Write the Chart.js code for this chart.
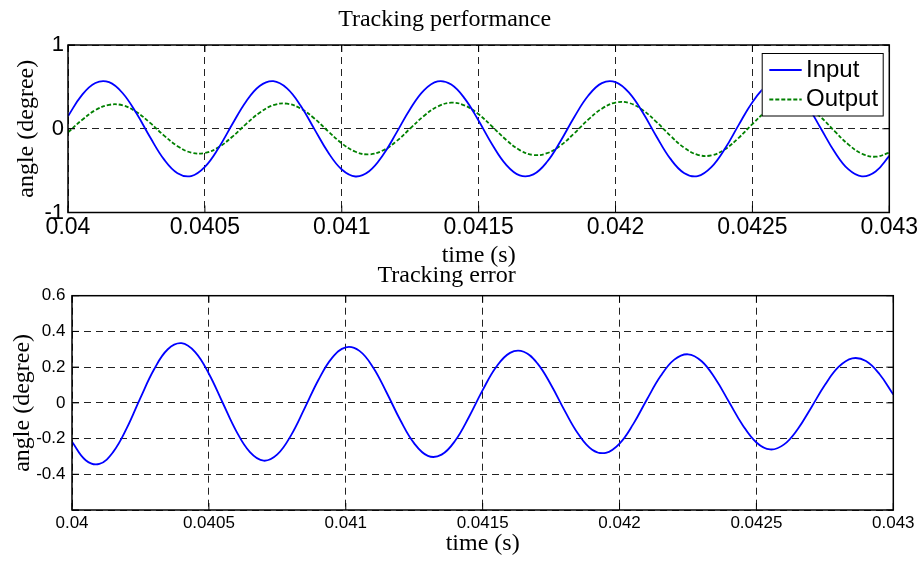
<!DOCTYPE html>
<html>
<head>
<meta charset="utf-8">
<title>Tracking performance</title>
<script src="https://cdn.jsdelivr.net/npm/chart.js@4/dist/chart.umd.min.js"></script>
<style>
  body { margin: 0; background: #fff; }
  #wrap { position: relative; width: 922px; height: 563px; }
  canvas { position: absolute; left: 0; top: 0; }
</style>
</head>
<body>
<div id="wrap">
  <canvas id="topChart" width="922" height="563"></canvas>
  <canvas id="errChart" width="922" height="563"></canvas>
</div>
<script>
// time axis (s), one sample every 0.00005 s
const time = [
  0.04, 0.04005, 0.0401, 0.04015, 0.0402, 0.04025, 0.0403, 0.04035, 0.0404, 0.04045,
  0.0405, 0.04055, 0.0406, 0.04065, 0.0407, 0.04075, 0.0408, 0.04085, 0.0409, 0.04095,
  0.041, 0.04105, 0.0411, 0.04115, 0.0412, 0.04125, 0.0413, 0.04135, 0.0414, 0.04145,
  0.0415, 0.04155, 0.0416, 0.04165, 0.0417, 0.04175, 0.0418, 0.04185, 0.0419, 0.04195,
  0.042, 0.04205, 0.0421, 0.04215, 0.0422, 0.04225, 0.0423, 0.04235, 0.0424, 0.04245,
  0.0425, 0.04255, 0.0426, 0.04265, 0.0427, 0.04275, 0.0428, 0.04285, 0.0429, 0.04295,
  0.043
];

const inputAngle = [
  0.150, 0.399, 0.547, 0.556, 0.424, 0.184, -0.102, -0.363, -0.531, -0.565,
  -0.455, -0.230, 0.053, 0.323, 0.511, 0.569, 0.483, 0.275, -0.004, -0.281,
  -0.487, -0.570, -0.508, -0.317, -0.046, 0.237, 0.459, 0.566, 0.528, 0.357,
  0.095, -0.191, -0.428, -0.557, -0.545, -0.394, -0.143, 0.144, 0.394, 0.545,
  0.557, 0.428, 0.191, -0.095, -0.357, -0.528, -0.566, -0.459, -0.237, 0.046,
  0.317, 0.508, 0.570, 0.487, 0.281, 0.003, -0.275, -0.483, -0.569, -0.511,
  -0.323
];

const outputAngle = [
  -0.044, 0.102, 0.222, 0.286, 0.279, 0.200, 0.070, -0.079, -0.208, -0.285,
  -0.290, -0.221, -0.096, 0.055, 0.192, 0.281, 0.299, 0.241, 0.122, -0.029,
  -0.174, -0.275, -0.306, -0.260, -0.148, 0.003, 0.153, 0.265, 0.311, 0.277,
  0.173, 0.024, -0.131, -0.255, -0.313, -0.292, -0.198, -0.052, 0.108, 0.240,
  0.313, 0.307, 0.222, 0.080, -0.082, -0.225, -0.311, -0.318, -0.244, -0.108,
  0.056, 0.206, 0.305, 0.327, 0.266, 0.137, -0.028, -0.186, -0.298, -0.334,
  -0.286
];

const trackError = [
  -0.218, -0.321, -0.342, -0.276, -0.142, 0.028, 0.188, 0.300, 0.334, 0.284,
  0.163, 0.002, -0.158, -0.276, -0.324, -0.289, -0.182, -0.030, 0.128, 0.252,
  0.311, 0.291, 0.198, 0.055, -0.099, -0.227, -0.297, -0.290, -0.211, -0.079,
  0.071, 0.202, 0.280, 0.286, 0.221, 0.100, -0.045, -0.176, -0.262, -0.280,
  -0.228, -0.119, 0.019, 0.150, 0.242, 0.272, 0.233, 0.135, 0.005, -0.125,
  -0.222, -0.261, -0.234, -0.149, -0.027, 0.100, 0.201, 0.249, 0.234, 0.160,
  0.047
];

const timeTicks = [0.04, 0.0405, 0.041, 0.0415, 0.042, 0.0425, 0.043];
const timeTickLabels = ["0.04", "0.0405", "0.041", "0.0415", "0.042", "0.0425", "0.043"];
const angleTicks = [-1, 0, 1];
const angleTickLabels = ["-1", "0", "1"];
const errorTicks = [-0.6, -0.4, -0.2, 0, 0.2, 0.4, 0.6];
const errorTickLabels = ["", "-0.4", "-0.2", "0", "0.2", "0.4", "0.6"];

const SANS = "'Liberation Sans', Arial, sans-serif";
const SERIF = "'Liberation Serif', 'Times New Roman', serif";

function points(ys) {
  return time.map((t, i) => ({ x: t, y: ys[i] }));
}

// box round the plot plus small inward tick marks, like matlab
const frame = {
  id: "frame",
  afterDatasetsDraw(chart) {
    const { ctx, chartArea: a, scales } = chart;
    ctx.save();
    ctx.strokeStyle = "#000";
    ctx.lineWidth = 1;
    ctx.setLineDash([]);
    ctx.beginPath();
    scales.x.ticks.forEach(t => {
      const px = scales.x.getPixelForValue(t.value);
      ctx.moveTo(px, a.bottom); ctx.lineTo(px, a.bottom - 7);
      ctx.moveTo(px, a.top); ctx.lineTo(px, a.top + 7);
    });
    scales.y.ticks.forEach(t => {
      const py = scales.y.getPixelForValue(t.value);
      ctx.moveTo(a.left, py); ctx.lineTo(a.left + 7, py);
      ctx.moveTo(a.right, py); ctx.lineTo(a.right - 7, py);
    });
    ctx.stroke();
    ctx.lineWidth = 1.5;
    ctx.strokeRect(a.left, a.top, a.right - a.left, a.bottom - a.top);
    ctx.restore();
  }
};

// legend drawn inside the plot, top right, with a black box
const boxLegend = {
  id: "boxLegend",
  afterDraw(chart) {
    const { ctx, chartArea: a } = chart;
    const w = 121, h = 62.5;
    const x = a.right - 6.6 - w, y = a.top + 8;
    ctx.save();
    ctx.fillStyle = "#fff";
    ctx.fillRect(x, y, w, h);
    ctx.strokeStyle = "#000";
    ctx.lineWidth = 1;
    ctx.setLineDash([]);
    ctx.strokeRect(x + 0.5, y + 0.5, w, h);
    chart.data.datasets.forEach((ds, i) => {
      const cy = y + 17 + i * 29.5;
      ctx.beginPath();
      ctx.setLineDash(ds.borderDash || []);
      ctx.strokeStyle = ds.borderColor;
      ctx.lineWidth = ds.borderWidth;
      ctx.moveTo(x + 7.6, cy);
      ctx.lineTo(x + 40, cy);
      ctx.stroke();
      ctx.setLineDash([]);
      ctx.fillStyle = "#000";
      ctx.font = "24px " + SANS;
      ctx.textBaseline = "middle";
      ctx.textAlign = "left";
      ctx.fillText(ds.label, x + 44.3, cy);
    });
    ctx.restore();
  }
};

function xScale(tickSize, tickPad, height) {
  return {
    type: "linear",
    min: 0.04,
    max: 0.043,
    afterBuildTicks: s => { s.ticks = timeTicks.map(v => ({ value: v })); },
    afterFit: s => { s.height = height; },
    ticks: {
      callback: (v, i) => timeTickLabels[i],
      font: { family: SANS, size: tickSize },
      color: "#000",
      padding: tickPad,
      maxRotation: 0,
      autoSkip: false
    },
    grid: { color: "#222", lineWidth: 1, drawTicks: false, borderDash: [7, 5] },
    border: { display: false, dash: [7, 5] },
    title: {
      display: true,
      text: "time (s)",
      font: { family: SERIF, size: 24 },
      color: "#000",
      padding: 0
    }
  };
}

function yScale(min, max, ticks, labels, tickSize, tickPad, width, titlePad) {
  return {
    type: "linear",
    min: min,
    max: max,
    afterBuildTicks: s => { s.ticks = ticks.map(v => ({ value: v })); },
    afterFit: s => { s.width = width; },
    ticks: {
      callback: (v, i) => labels[i],
      font: { family: SANS, size: tickSize },
      color: "#000",
      padding: tickPad,
      autoSkip: false
    },
    grid: { color: "#222", lineWidth: 1, drawTicks: false, borderDash: [7, 5] },
    border: { display: false, dash: [7, 5] },
    title: {
      display: true,
      text: "angle (degree)",
      font: { family: SERIF, size: 24 },
      color: "#000",
      padding: { top: titlePad, bottom: 0 }
    }
  };
}

new Chart(document.getElementById("topChart"), {
  type: "line",
  data: {
    datasets: [
      {
        label: "Input",
        data: points(inputAngle),
        borderColor: "#0000ff",
        borderWidth: 1.8,
        pointRadius: 0,
        tension: 0.4,
        fill: false
      },
      {
        label: "Output",
        data: points(outputAngle),
        borderColor: "#008000",
        borderWidth: 1.8,
        borderDash: [4, 2],
        pointRadius: 0,
        tension: 0.4,
        fill: false
      }
    ]
  },
  options: {
    responsive: false,
    animation: false,
    devicePixelRatio: 1,
    layout: { padding: { left: 0, right: 32.7, top: 0, bottom: 292.5 } },
    plugins: {
      legend: { display: false },
      tooltip: { enabled: false },
      title: {
        display: true,
        text: "Tracking performance",
        font: { family: SERIF, size: 24, weight: "normal" },
        color: "#000",
        padding: { top: 5.5, bottom: 10.7 }
      }
    },
    scales: {
      x: xScale(23, 1.5, 58),
      y: yScale(-1, 1, angleTicks, angleTickLabels, 22, 4, 68, 12)
    }
  },
  plugins: [frame, boxLegend]
});

new Chart(document.getElementById("errChart"), {
  type: "line",
  data: {
    datasets: [
      {
        label: "Error",
        data: points(trackError),
        borderColor: "#0000ff",
        borderWidth: 1.8,
        pointRadius: 0,
        tension: 0.4,
        fill: false
      }
    ]
  },
  options: {
    responsive: false,
    animation: false,
    devicePixelRatio: 1,
    layout: { padding: { left: 0, right: 28.7, top: 0, bottom: 4.6 } },
    plugins: {
      legend: { display: false },
      tooltip: { enabled: false },
      title: {
        display: true,
        text: "Tracking error",
        font: { family: SERIF, size: 24, weight: "normal" },
        color: "#000",
        padding: { top: 261, bottom: 5.9 }
      }
    },
    scales: {
      x: xScale(17, 3.5, 48.4),
      y: yScale(-0.6, 0.6, errorTicks, errorTickLabels, 17, 6.5, 72, 8)
    }
  },
  plugins: [frame]
});
</script>
</body>
</html>
